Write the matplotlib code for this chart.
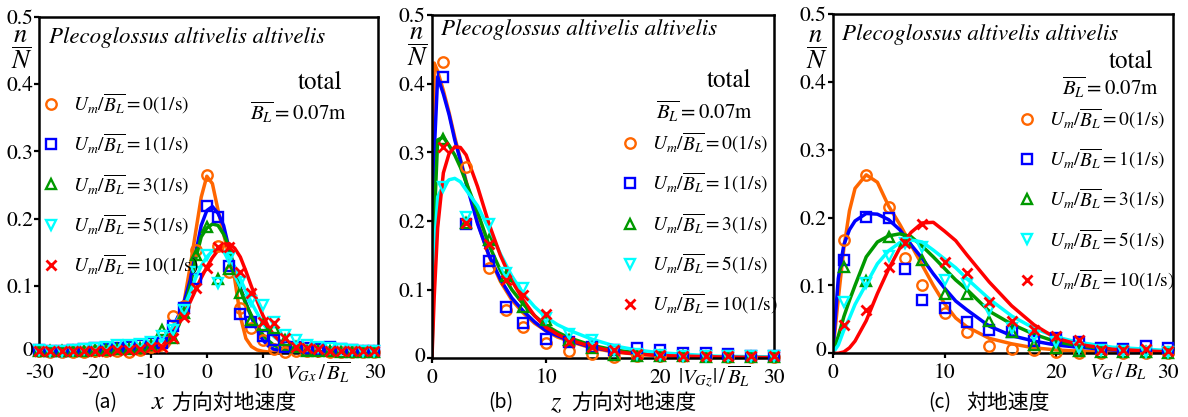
import matplotlib
matplotlib.use("Agg")
import matplotlib.pyplot as plt
import matplotlib.transforms as mtransforms
from matplotlib.lines import Line2D
from matplotlib.ticker import FuncFormatter

plt.rcParams["font.family"] = ["STIXGeneral", "Liberation Serif", "DejaVu Serif"]
plt.rcParams["mathtext.fontset"] = "stix"

speeds = ["0", "1", "3", "5", "10"]
colors = ["#ff6600", "#0000ff", "#009900", "#00ffff", "#ff0000"]
markers = ["o", "s", "^", "v", "x"]

# ---- (a) x direction ----
a_x = list(range(-30, 31, 2))
a_pts_0 = [0.003, 0.002, 0.002, 0.002, 0.002, 0.003, 0.003, 0.003, 0.002, 0.005, 0.01, 0.02, 0.056, 0.07, 0.153,
           0.265, 0.16, 0.12, 0.068, 0.037, 0.02, 0.006, 0.002, 0.004, 0.003, 0.003, 0.002, 0.002, 0.002, 0.002, 0.002]
a_pts_1 = [0.005, 0.004, 0.004, 0.005, 0.006, 0.008, 0.007, 0.008, 0.01, 0.012, 0.015, 0.015, 0.04, 0.067, 0.11,
           0.219, 0.202, 0.129, 0.059, 0.047, 0.025, 0.019, 0.01, 0.01, 0.008, 0.007, 0.01, 0.006, 0.005, 0.004, 0.004]
a_pts_3 = [0.003, 0.003, 0.003, 0.004, 0.004, 0.005, 0.005, 0.006, 0.006, 0.008, 0.012, 0.035, 0.022, 0.06, 0.146,
           0.188, 0.11, 0.125, 0.09, 0.05, 0.042, 0.037, 0.02, 0.01, 0.004, 0.003, 0.003, 0.002, 0.002, 0.002, 0.002]
a_pts_5 = [0.005, 0.004, 0.004, 0.005, 0.006, 0.008, 0.01, 0.012, 0.012, 0.014, 0.017, 0.025, 0.035, 0.064, 0.121,
           0.146, 0.105, 0.141, 0.106, 0.077, 0.072, 0.047, 0.027, 0.02, 0.012, 0.01, 0.008, 0.006, 0.005, 0.004, 0.004]
a_pts_10 = [0.003, 0.003, 0.003, 0.003, 0.003, 0.004, 0.004, 0.005, 0.005, 0.006, 0.01, 0.01, 0.022, 0.054, 0.097,
            0.126, 0.158, 0.158, 0.121, 0.089, 0.047, 0.045, 0.022, 0.01, 0.008, 0.006, 0.004, 0.004, 0.003, 0.003, 0.003]

a_fit_x = [-30, -12, -10, -8, -7, -6, -5, -4, -3, -2, -1, 0, 1, 2, 3, 4, 5, 6, 7, 8, 9, 10, 11, 12, 14, 16, 20, 30]
a_fit_0 = [0.001, 0.001, 0.002, 0.005, 0.01, 0.022, 0.045, 0.08, 0.128, 0.18, 0.232, 0.263, 0.252, 0.213, 0.178,
           0.142, 0.11, 0.055, 0.022, 0.01, 0.005, 0.003, 0.002, 0.002, 0.001, 0.001, 0.001, 0.001]
a_fit_1 = [0.001, 0.003, 0.005, 0.01, 0.022, 0.04, 0.057, 0.078, 0.108, 0.148, 0.19, 0.212, 0.218, 0.208, 0.19,
           0.155, 0.122, 0.097, 0.075, 0.053, 0.035, 0.02, 0.011, 0.006, 0.003, 0.002, 0.001, 0.001]
a_fit_3 = [0.001, 0.003, 0.005, 0.01, 0.018, 0.028, 0.042, 0.066, 0.1, 0.14, 0.173, 0.186, 0.192, 0.19, 0.177,
           0.158, 0.121, 0.095, 0.073, 0.056, 0.041, 0.028, 0.019, 0.012, 0.005, 0.002, 0.001, 0.001]
a_fit_5 = [0.001, 0.005, 0.01, 0.02, 0.029, 0.04, 0.054, 0.07, 0.09, 0.112, 0.13, 0.143, 0.152, 0.155, 0.152,
           0.143, 0.128, 0.11, 0.092, 0.075, 0.06, 0.045, 0.034, 0.025, 0.012, 0.006, 0.002, 0.001]
a_fit_10 = [0.001, 0.003, 0.005, 0.011, 0.02, 0.032, 0.045, 0.06, 0.076, 0.094, 0.112, 0.128, 0.142, 0.153, 0.16,
            0.163, 0.156, 0.143, 0.122, 0.099, 0.078, 0.057, 0.04, 0.027, 0.01, 0.004, 0.002, 0.001]

# ---- (b) z direction ----
b_x = [1, 3, 5, 6.5, 8, 10, 12, 14, 16, 18, 20, 22, 24, 26, 28, 30]
b_pts_0 = [0.431, 0.279, 0.131, 0.07, 0.046, 0.022, 0.01, 0.006, 0.002, 0.003, 0.003, 0.003, 0.003, 0.002, 0.002, 0.002]
b_pts_1 = [0.409, 0.196, 0.141, 0.075, 0.051, 0.028, 0.024, 0.017, 0.012, 0.015, 0.012, 0.007, 0.007, 0.006, 0.004, 0.004]
b_pts_3 = [0.319, 0.197, 0.172, 0.12, 0.075, 0.056, 0.027, 0.015, 0.005, 0.004, 0.004, 0.003, 0.002, 0.002, 0.002, 0.002]
b_pts_5 = [0.25, 0.206, 0.196, 0.124, 0.102, 0.058, 0.036, 0.027, 0.012, 0.006, 0.005, 0.004, 0.004, 0.003, 0.003, 0.003]
b_pts_10 = [0.307, 0.197, 0.166, 0.114, 0.092, 0.065, 0.024, 0.017, 0.012, 0.006, 0.005, 0.004, 0.004, 0.003, 0.003, 0.003]

b_fit_x = [0, 0.2, 0.5, 1, 1.5, 2, 2.5, 3, 4, 5, 6, 7, 8, 9, 10, 11, 12, 14, 16, 18, 20, 25, 30]
b_fit_0 = [0, 0.43, 0.418, 0.39, 0.358, 0.322, 0.29, 0.258, 0.198, 0.149, 0.112, 0.085, 0.066, 0.051, 0.04,
           0.031, 0.025, 0.015, 0.009, 0.006, 0.004, 0.002, 0.001]
b_fit_1 = [0, 0.3, 0.41, 0.385, 0.355, 0.318, 0.288, 0.255, 0.196, 0.15, 0.115, 0.088, 0.069, 0.053, 0.04,
           0.033, 0.026, 0.016, 0.01, 0.007, 0.005, 0.002, 0.001]
b_fit_3 = [0, 0.2, 0.318, 0.322, 0.31, 0.296, 0.278, 0.256, 0.213, 0.165, 0.128, 0.1, 0.079, 0.062, 0.048,
           0.038, 0.03, 0.019, 0.012, 0.008, 0.005, 0.002, 0.001]
b_fit_5 = [0, 0.15, 0.235, 0.252, 0.26, 0.262, 0.257, 0.245, 0.222, 0.188, 0.152, 0.12, 0.094, 0.075, 0.06,
           0.049, 0.041, 0.028, 0.018, 0.012, 0.008, 0.003, 0.002]
b_fit_10 = [0, 0.09, 0.19, 0.27, 0.298, 0.308, 0.307, 0.296, 0.25, 0.196, 0.15, 0.113, 0.085, 0.062, 0.045,
            0.035, 0.027, 0.017, 0.01, 0.006, 0.004, 0.002, 0.001]

# ---- (c) ground speed ----
c_x = [1, 3, 5, 6.5, 8, 10, 12, 14, 16, 18, 20, 22, 24, 26, 28, 30]
c_pts_0 = [0.167, 0.262, 0.216, 0.14, 0.1, 0.059, 0.031, 0.01, 0.007, 0.005, 0.002, 0.001, 0.001, 0.001, 0.001, 0.001]
c_pts_1 = [0.137, 0.201, 0.199, 0.124, 0.079, 0.066, 0.046, 0.035, 0.031, 0.018, 0.022, 0.017, 0.008, 0.006, 0.01, 0.008]
c_pts_3 = [0.127, 0.107, 0.172, 0.165, 0.137, 0.088, 0.088, 0.047, 0.032, 0.012, 0.008, 0.003, 0.002, 0.002, 0.002, 0.001]
c_pts_5 = [0.076, 0.103, 0.143, 0.163, 0.156, 0.108, 0.102, 0.064, 0.037, 0.025, 0.016, 0.008, 0.005, 0.003, 0.002, 0.002]
c_pts_10 = [0.041, 0.064, 0.127, 0.162, 0.19, 0.135, 0.118, 0.076, 0.048, 0.034, 0.025, 0.019, 0.005, 0.005, 0.007, 0.003]

c_fit_x = [0, 0.5, 1, 1.5, 2, 3, 4, 5, 6, 7, 8, 9, 10, 11, 12, 14, 16, 18, 20, 22, 25, 30]
c_fit_0 = [0, 0.08, 0.155, 0.21, 0.243, 0.263, 0.252, 0.217, 0.19, 0.16, 0.13, 0.1, 0.073, 0.052, 0.039,
           0.022, 0.014, 0.008, 0.005, 0.003, 0.002, 0.001]
c_fit_1 = [0, 0.11, 0.16, 0.182, 0.195, 0.206, 0.205, 0.197, 0.182, 0.16, 0.14, 0.117, 0.096, 0.077, 0.064,
           0.04, 0.026, 0.018, 0.012, 0.009, 0.005, 0.002]
c_fit_3 = [0, 0.025, 0.054, 0.078, 0.1, 0.142, 0.164, 0.173, 0.176, 0.172, 0.158, 0.142, 0.125, 0.108, 0.094,
           0.062, 0.043, 0.028, 0.017, 0.011, 0.006, 0.002]
c_fit_5 = [0, 0.012, 0.034, 0.052, 0.072, 0.102, 0.132, 0.151, 0.163, 0.167, 0.164, 0.152, 0.139, 0.126, 0.11,
           0.08, 0.055, 0.037, 0.024, 0.016, 0.009, 0.004]
c_fit_10 = [0, 0, 0.002, 0.008, 0.018, 0.048, 0.088, 0.124, 0.155, 0.178, 0.192, 0.193, 0.18, 0.166, 0.145,
            0.105, 0.07, 0.042, 0.022, 0.013, 0.006, 0.002]

SPECIES = "Plecoglossus altivelis altivelis"
JP = ["Noto Sans CJK JP", "DejaVu Sans"]

fig = plt.figure(figsize=(11.88, 4.17), dpi=100)

panels = [
    dict(rect=[0.0331, 0.1528, 0.2848, 0.8072], xlim=(-30, 30.6),
         xticks=[-30, -20, -10, 0, 10, 20, 30], xtl=["-30", "-20", "-10", "0", "10", "", "30"],
         x=a_x, pts=[a_pts_0, a_pts_1, a_pts_3, a_pts_5, a_pts_10],
         fx=a_fit_x, fits=[a_fit_0, a_fit_1, a_fit_3, a_fit_5, a_fit_10],
         xlab=r"$V_{Gx}\,/\,\overline{B_L}$", xlab_pos=(0.824, -0.058),
         ny=(-0.051, 0.900), sp=(0.029, 0.937), tot=(0.894, 0.803), bl=(0.909, 0.714),
         leg=(-0.005, 0.79), cap="(a)", cap_x=93, cap_v="x", cap_t="方向対地速度", cap_vx=152, cap_tx=171),
    dict(rect=[0.3636, 0.1408, 0.2879, 0.8233], xlim=(0, 30),
         xticks=[0, 10, 20, 30], xtl=["0", "10", "20", "30"],
         x=b_x, pts=[b_pts_0, b_pts_1, b_pts_3, b_pts_5, b_pts_10],
         fx=b_fit_x, fits=[b_fit_0, b_fit_1, b_fit_3, b_fit_5, b_fit_10],
         xlab=r"$|V_{Gz}|\,/\,\overline{B_L}$", xlab_pos=(0.827, -0.054),
         ny=(-0.040, 0.907), sp=(0.025, 0.958), tot=(0.933, 0.808), bl=(0.939, 0.718),
         leg=(0.540, 0.675), cap="(b)", cap_x=488, cap_v="z", cap_t="方向対地速度", cap_vx=550, cap_tx=571),
    dict(rect=[0.7009, 0.1528, 0.2862, 0.8137], xlim=(0, 30.4),
         xticks=[0, 10, 20, 30], xtl=["0", "10", "20", "30"],
         x=c_x, pts=[c_pts_0, c_pts_1, c_pts_3, c_pts_5, c_pts_10],
         fx=c_fit_x, fits=[c_fit_0, c_fit_1, c_fit_3, c_fit_5, c_fit_10],
         xlab=r"$V_G\,/\,B_L$", xlab_pos=(0.838, -0.055),
         ny=(-0.047, 0.894), sp=(0.026, 0.940), tot=(0.942, 0.859), bl=(0.96, 0.784),
         leg=(0.532, 0.740), cap="(c)", cap_x=928, cap_v=None, cap_t="対地速度", cap_vx=None, cap_tx=966),
]

for p in panels:
    ax = fig.add_axes(p["rect"])
    for k in range(5):
        ax.plot(p["fx"], p["fits"][k], color=colors[k], lw=2.5, zorder=2 + k * 0.1)
    for k in range(5):
        ax.plot(p["x"], p["pts"][k], ls="none", marker=markers[k], ms=7.5,
                mfc="none", mec=colors[k], mew=2.0 if markers[k] == "x" else 1.7,
                clip_on=False, zorder=3 + k * 0.1)
    ax.set_xlim(*p["xlim"])
    ax.set_ylim(0, 0.5)
    ax.set_xticks(p["xticks"])
    ax.set_xticklabels(p["xtl"])
    ax.set_yticks([0, 0.1, 0.2, 0.3, 0.4, 0.5])
    ax.yaxis.set_major_formatter(FuncFormatter(lambda v, pos: "0" if v == 0 else "%.1f" % v))
    ax.tick_params(direction="out", length=3.5, width=1.6, labelsize=15.5, pad=1.0)
    ax.tick_params(axis="x", pad=3.5)
    for s in ax.spines.values():
        s.set_linewidth(1.8)

    # nudge the "0" y label up a little so it clears the first x label
    zero_lab = ax.yaxis.get_major_ticks()[0].label1
    zero_lab.set_transform(zero_lab.get_transform() +
                           mtransforms.ScaledTranslation(0, 3 / 72, fig.dpi_scale_trans))

    ax.text(*p["xlab_pos"], p["xlab"], transform=ax.transAxes, ha="center", va="center", fontsize=15)
    ax.text(*p["ny"], r"$\dfrac{n}{N}$", transform=ax.transAxes, ha="center", va="center", fontsize=19)
    ax.text(*p["sp"], SPECIES, transform=ax.transAxes, ha="left", va="center", fontsize=16.5, style="italic")
    ax.text(*p["tot"], "total", transform=ax.transAxes, ha="right", va="center", fontsize=18)
    ax.text(*p["bl"], r"$\overline{B_L}=\mathrm{0.07m}$", transform=ax.transAxes, ha="right", va="center",
            fontsize=15)

    handles = [Line2D([], [], ls="none", marker=markers[k], ms=7.5, mfc="none", mec=colors[k],
                      mew=2.0 if markers[k] == "x" else 1.7) for k in range(5)]
    labels = [r"$U_m/\overline{B_L}=\mathrm{%s(1/s)}$" % s for s in speeds]
    ax.legend(handles, labels, loc="upper left", bbox_to_anchor=p["leg"], frameon=False,
              fontsize=14, handlelength=1.0, handletextpad=0.6, labelspacing=0.8,
              borderpad=0.2, borderaxespad=0)

    # caption under panel
    fy = 1 - 403 / 417
    fig.text(p["cap_x"] / 1188, fy, p["cap"], family=JP, fontsize=14, ha="left", va="center")
    if p["cap_v"]:
        fig.text(p["cap_vx"] / 1188, fy, p["cap_v"], fontsize=19, style="italic", ha="left", va="center")
    fig.text(p["cap_tx"] / 1188, fy, p["cap_t"], family=JP, fontsize=15, ha="left", va="center")

fig.savefig("out.png", dpi=100)
